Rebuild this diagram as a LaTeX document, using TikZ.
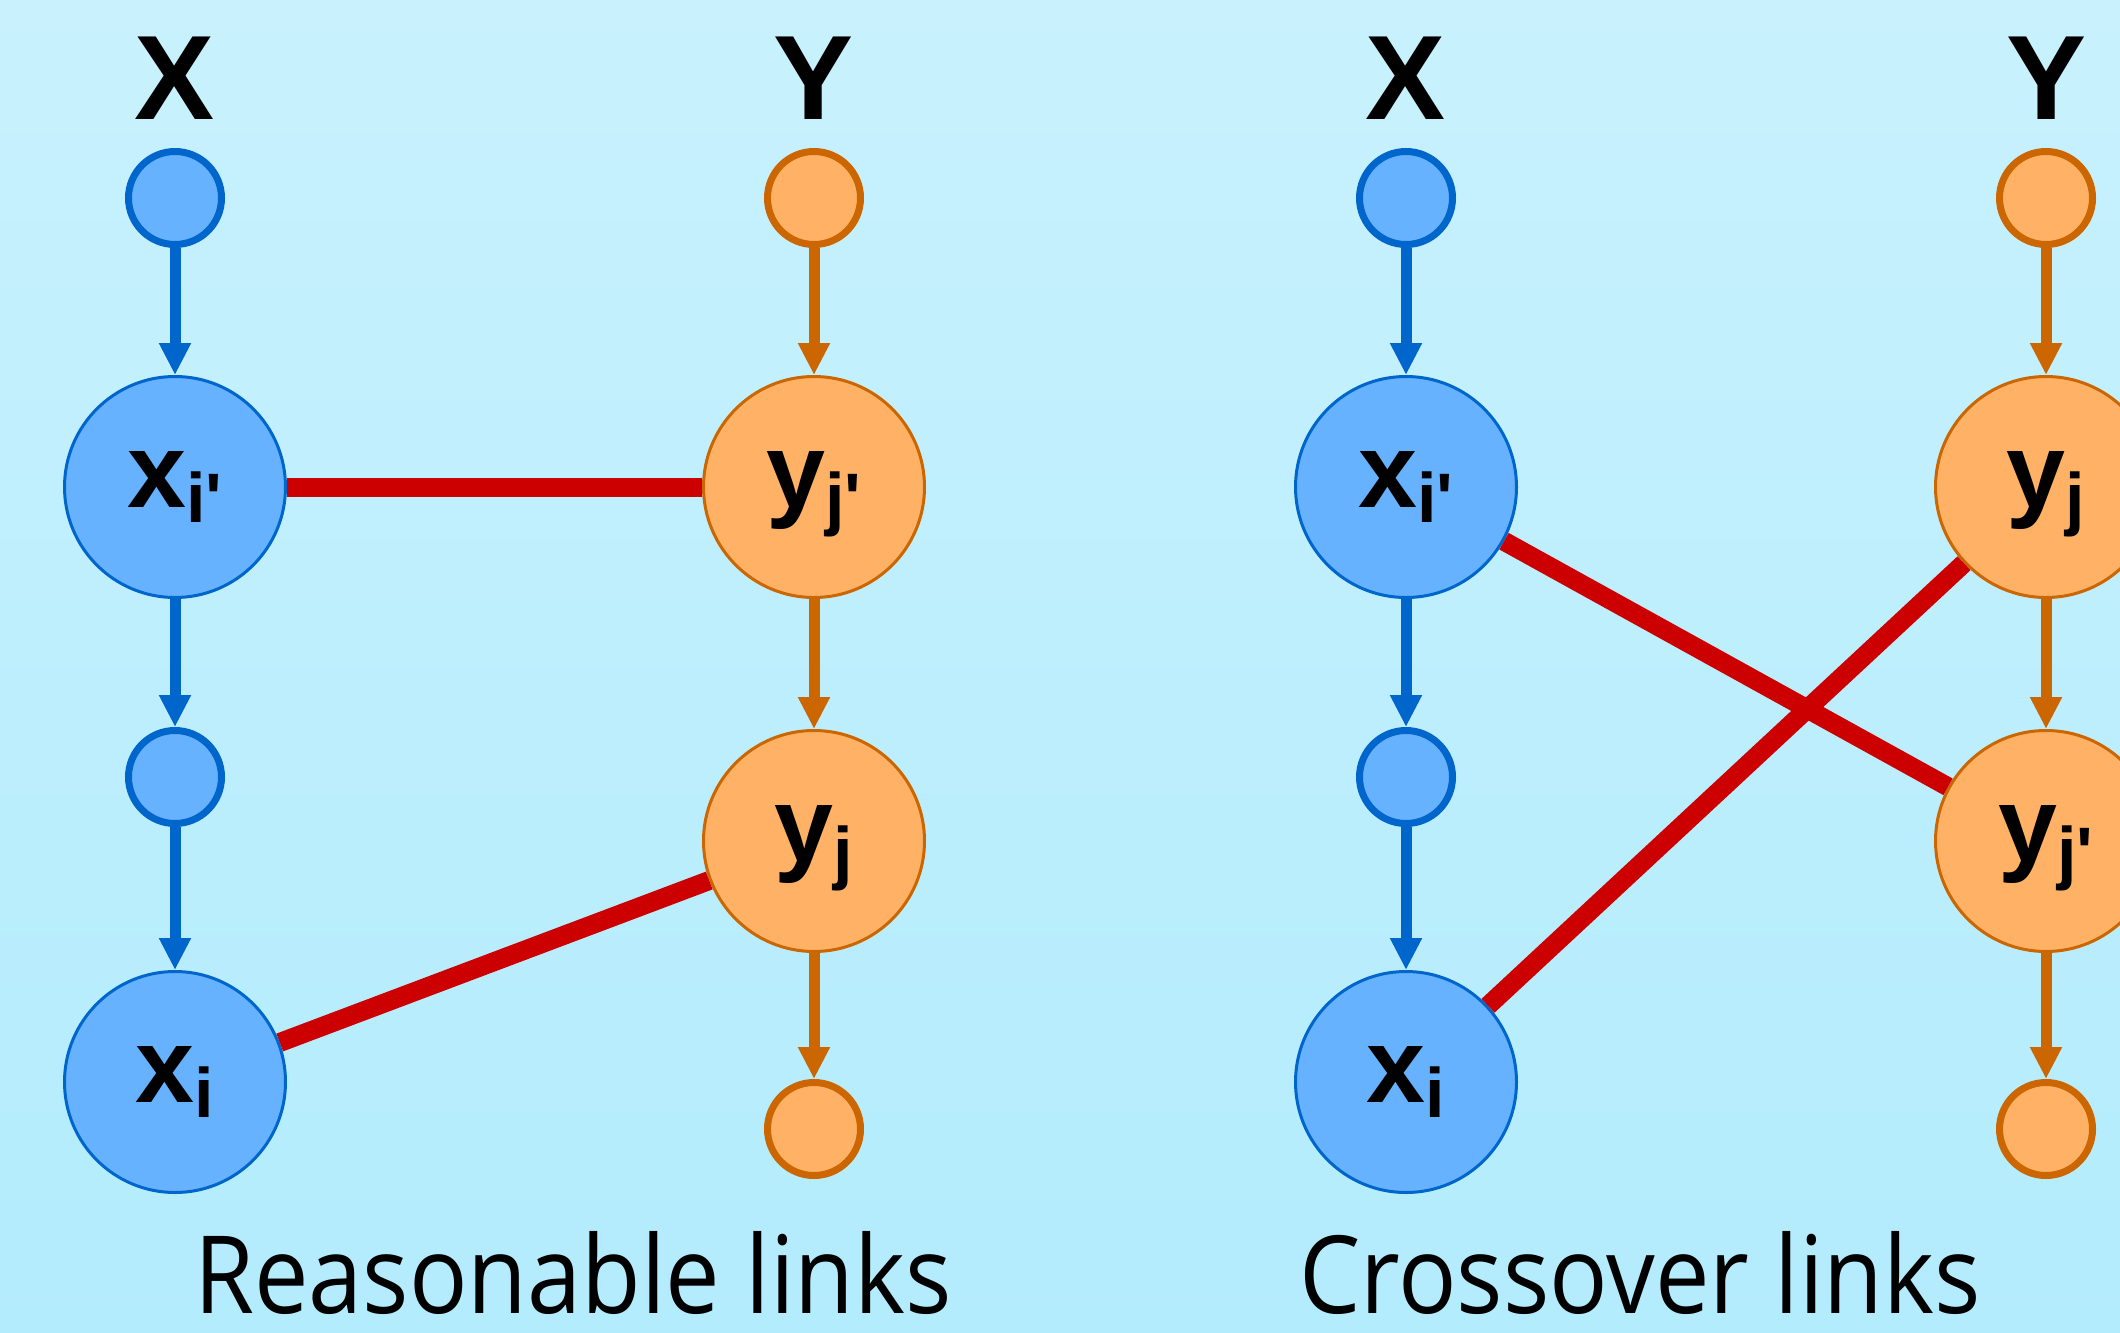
\documentclass[tikz,border=0pt]{standalone}
\usepackage{fontspec}
\usepackage{graphicx}
\setmainfont{Open Sans}
\newfontfamily\arialbf{Liberation Sans}[BoldFont={Liberation Sans Bold}]
\usetikzlibrary{arrows.meta}
\definecolor{bgtop}{HTML}{C8F1FD}
\definecolor{bgbot}{HTML}{B3ECFD}
\definecolor{bfill}{HTML}{66B2FF}
\definecolor{bdraw}{HTML}{0066CC}
\definecolor{ofill}{HTML}{FFB266}
\definecolor{odraw}{HTML}{CC6600}
\definecolor{redl}{HTML}{CC0000}
\newcommand{\sublab}[2]{{\arialbf\bfseries\fontsize{53pt}{53pt}\selectfont #1\lower7.5pt\hbox{\fontsize{35pt}{35pt}\selectfont #2}}}
\newcommand{\captext}[1]{\scalebox{0.9}[1]{\fontsize{54pt}{54pt}\selectfont #1}}
\tikzset{
  smallb/.style={circle,draw=bdraw,fill=bfill,line width=3.5pt,minimum size=46.5pt,inner sep=0pt},
  smallo/.style={circle,draw=odraw,fill=ofill,line width=3.5pt,minimum size=46.5pt,inner sep=0pt},
  bigb/.style={circle,draw=bdraw,fill=bfill,line width=1.5pt,minimum size=110.5pt,inner sep=0pt,text height=27.5pt,text depth=7.5pt},
  bigo/.style={circle,draw=odraw,fill=ofill,line width=1.5pt,minimum size=110.5pt,inner sep=0pt,text height=27.5pt,text depth=7.5pt},
  arrb/.style={draw=bdraw,line width=5.5pt,-{Triangle[width=15pt,length=16pt]}},
  arro/.style={draw=odraw,line width=5.5pt,-{Triangle[width=15pt,length=16pt]}},
  link/.style={draw=redl,line width=9.5pt},
  head/.style={font=\arialbf\bfseries\fontsize{60pt}{60pt}\selectfont,inner sep=0pt},
  caption/.style={inner sep=0pt,anchor=base}
}
\begin{document}
\begin{tikzpicture}[x=0.5pt,y=-0.5pt]
\useasboundingbox (0,0) rectangle (2120,1333);
\clip (0,0) rectangle (2120,1333);
\shade[top color=bgtop,bottom color=bgbot] (0,0) rectangle (2120,1333);
% left diagram
\node[head] (LX) at (175,78) {X};
\node[head] (LY) at (814,78) {Y};
\node[smallb] (lx1) at (175,198) {};
\node[bigb] (lxip) at (175,487) {\sublab{x}{i'}};
\node[smallb] (lx2) at (175,777) {};
\node[bigb] (lxi) at (175,1082) {\sublab{x}{i}};
\node[smallo] (ly1) at (814,198) {};
\node[bigo] (lyjp) at (814,487) {\sublab{y}{j'}};
\node[bigo] (lyj) at (814,841) {\sublab{y}{j}};
\node[smallo] (ly2) at (814,1129) {};
\draw[arrb] (lx1) -- (lxip);
\draw[arrb] (lxip) -- (lx2);
\draw[arrb] (lx2) -- (lxi);
\draw[arro] (ly1) -- (lyjp);
\draw[arro] (lyjp) -- (lyj);
\draw[arro] (lyj) -- (ly2);
\draw[link] (lxip) -- (lyjp);
\draw[link] (lxi) -- (lyj);
\node[caption] (capL) at (573,1313) {\captext{Reasonable links}};
% right diagram
\node[head] (RX) at (1406,78) {X};
\node[head] (RY) at (2046,78) {Y};
\node[smallb] (rx1) at (1406,198) {};
\node[bigb] (rxip) at (1406,487) {\sublab{x}{i'}};
\node[smallb] (rx2) at (1406,777) {};
\node[bigb] (rxi) at (1406,1082) {\sublab{x}{i}};
\node[smallo] (ry1) at (2046,198) {};
\node[bigo] (ryj) at (2046,487) {\sublab{y}{j}};
\node[bigo] (ryjp) at (2046,841) {\sublab{y}{j'}};
\node[smallo] (ry2) at (2046,1129) {};
\draw[arrb] (rx1) -- (rxip);
\draw[arrb] (rxip) -- (rx2);
\draw[arrb] (rx2) -- (rxi);
\draw[arro] (ry1) -- (ryj);
\draw[arro] (ryj) -- (ryjp);
\draw[arro] (ryjp) -- (ry2);
\draw[link] (rxip) -- (ryjp);
\draw[link] (rxi) -- (ryj);
\node[caption] (capR) at (1640,1313) {\captext{Crossover links}};
\end{tikzpicture}
\end{document}
